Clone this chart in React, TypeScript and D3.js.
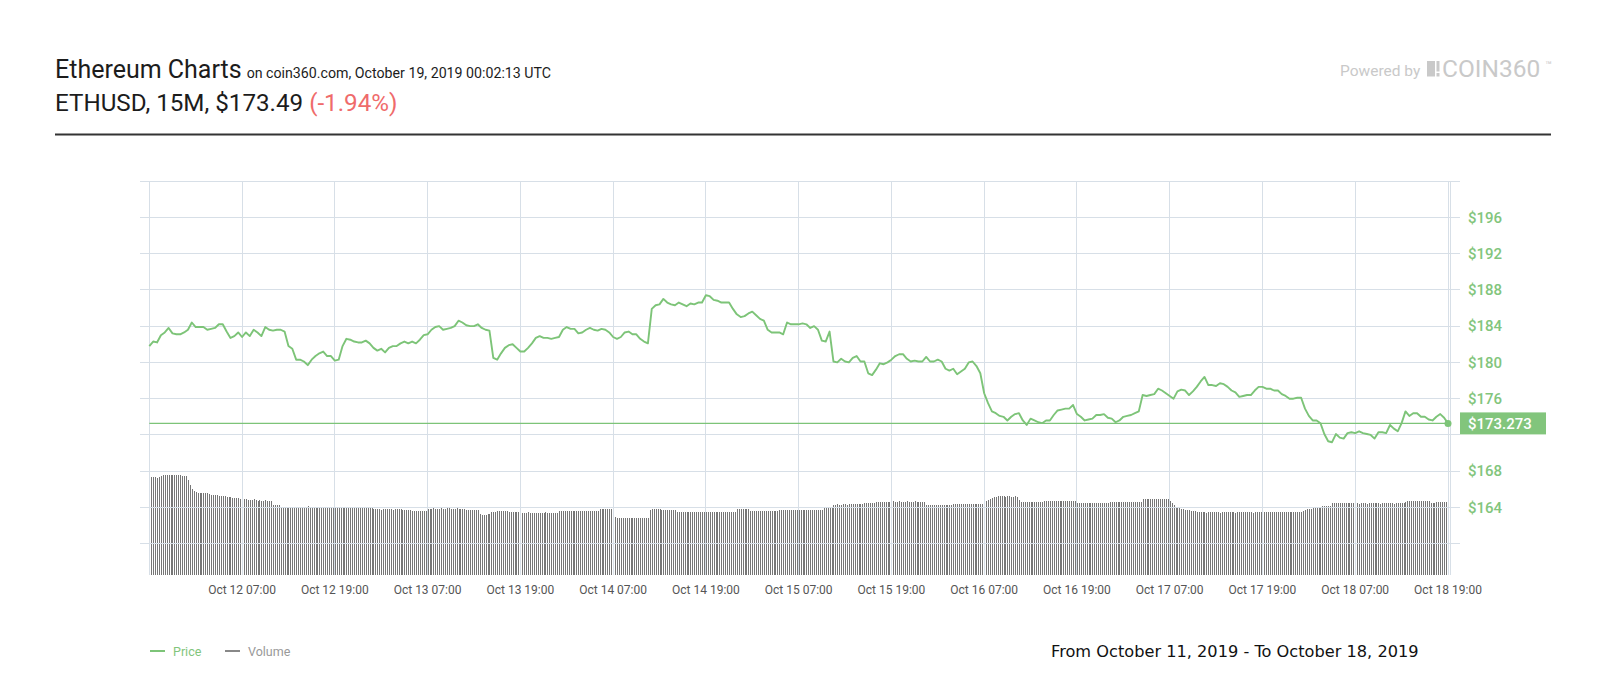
import React from 'react';
import * as d3 from 'd3';

// ---- data ----
const startTime = Date.UTC(2019, 9, 11, 19, 0);
const endTime = Date.UTC(2019, 9, 18, 19, 0);
const HOUR = 3600000;
const HALF_HOUR = 1800000;
const QUARTER = 900000;

// ETHUSD price every 30 minutes, Oct 11 19:00 -> Oct 18 19:00 (one row = 6 hours)
const price30m = [
  181.8, 182.3, 182.2, 183.0, 183.3, 183.8, 183.2, 183.1, 183.1, 183.3, 183.6, 184.4,
  183.9, 183.9, 183.9, 183.6, 183.7, 183.8, 184.2, 184.2, 183.4, 182.7, 182.9, 183.3,
  182.8, 183.3, 182.9, 183.6, 183.3, 182.9, 183.9, 183.6, 183.5, 183.6, 183.6, 183.4,
  181.8, 181.5, 180.3, 180.3, 180.1, 179.7, 180.3, 180.7, 181.0, 181.2, 180.7, 180.7,
  180.2, 180.3, 181.8, 182.6, 182.5, 182.3, 182.2, 182.2, 182.4, 182.1, 181.6, 181.3,
  181.5, 181.1, 181.6, 181.8, 181.8, 182.1, 182.3, 182.1, 182.3, 182.1, 182.5, 183.0,
  183.1, 183.6, 183.9, 184.0, 183.6, 183.7, 183.8, 184.0, 184.6, 184.4, 184.1, 184.0,
  184.0, 184.2, 183.8, 183.6, 183.5, 180.5, 180.3, 181.0, 181.6, 181.9, 182.0, 181.6,
  181.2, 181.2, 181.6, 182.1, 182.7, 182.9, 182.7, 182.7, 182.6, 182.7, 182.8, 183.6,
  183.9, 183.7, 183.7, 183.2, 183.3, 183.6, 183.8, 183.6, 183.5, 183.7, 183.6, 183.3,
  182.8, 182.6, 182.8, 183.3, 183.4, 183.1, 183.1, 182.6, 182.3, 182.1, 185.9, 186.3,
  186.4, 187.0, 186.6, 186.4, 186.3, 186.6, 186.4, 186.2, 186.5, 186.4, 186.6, 186.6,
  187.4, 187.3, 186.9, 186.8, 186.6, 186.6, 186.6, 185.9, 185.3, 185.0, 185.1, 185.4,
  185.6, 185.2, 184.8, 184.6, 183.6, 183.3, 183.3, 183.3, 183.1, 184.4, 184.2, 184.2,
  184.2, 184.3, 184.2, 183.8, 184.0, 183.6, 182.4, 182.3, 183.4, 180.1, 180.0, 180.4,
  180.1, 180.0, 180.5, 180.7, 180.1, 180.1, 178.8, 178.6, 179.2, 179.9, 179.8, 180.0,
  180.3, 180.7, 180.9, 180.9, 180.4, 180.1, 180.2, 180.1, 180.1, 180.6, 180.1, 180.1,
  180.3, 180.1, 179.3, 179.1, 179.3, 178.7, 179.0, 179.3, 180.0, 180.1, 179.6, 178.8,
  176.6, 175.5, 174.6, 174.4, 174.1, 174.0, 173.6, 174.0, 174.3, 174.4, 173.6, 173.1,
  173.8, 173.6, 173.4, 173.3, 173.6, 173.6, 174.2, 174.7, 174.8, 174.9, 174.9, 175.3,
  174.3, 174.0, 173.6, 173.7, 173.8, 174.2, 174.2, 174.3, 173.9, 173.8, 173.4, 173.6,
  174.0, 174.1, 174.2, 174.4, 174.6, 176.4, 176.3, 176.4, 176.5, 177.1, 176.9, 176.6,
  176.3, 176.0, 176.8, 177.0, 176.9, 176.4, 176.8, 177.3, 177.9, 178.4, 177.5, 177.5,
  177.4, 177.7, 177.6, 177.3, 176.9, 176.7, 176.2, 176.3, 176.4, 176.4, 176.9, 177.3,
  177.3, 177.1, 177.1, 176.9, 176.9, 176.5, 176.3, 176.0, 176.0, 176.1, 176.1, 174.9,
  174.1, 173.6, 173.6, 173.3, 172.1, 171.3, 171.2, 172.1, 171.7, 171.6, 172.2, 172.3,
  172.2, 172.4, 172.2, 172.1, 172.0, 171.6, 172.3, 172.3, 172.2, 173.1, 172.7, 172.4,
  173.3, 174.6, 174.1, 174.4, 174.4, 174.0, 174.0, 173.7, 173.6, 174.0, 174.3, 173.9,
  173.273,
];

// 15-minute volume (relative units), two rows per 12 hours
const volume15m = [
  97, 98, 98, 98, 97, 98, 99, 100, 100, 100, 100, 100, 100, 100, 100, 100, 100, 99, 99, 99, 95, 90, 86, 84,
  83, 82, 82, 82, 82, 82, 82, 81, 80, 80, 80, 80, 79, 79, 79, 79, 78, 78, 78, 77, 77, 77, 77, 76,
  77, 76, 76, 75, 75, 75, 76, 75, 74, 75, 74, 74, 75, 74, 74, 74, 70, 70, 70, 70, 67, 67, 67, 67,
  67, 67, 67, 67, 67, 67, 68, 68, 68, 68, 69, 68, 68, 68, 68, 67, 67, 68, 67, 67, 67, 67, 67, 68,
  67, 67, 67, 67, 67, 67, 68, 68, 67, 67, 67, 67, 67, 67, 67, 67, 67, 67, 67, 67, 66, 66, 66, 66,
  65, 66, 66, 66, 66, 66, 65, 66, 66, 66, 66, 65, 65, 65, 65, 65, 64, 64, 64, 64, 64, 64, 64, 64,
  66, 66, 66, 67, 66, 66, 66, 67, 66, 66, 67, 67, 66, 66, 66, 67, 66, 66, 66, 66, 65, 65, 65, 65,
  65, 65, 65, 61, 60, 60, 60, 61, 61, 63, 63, 63, 64, 64, 64, 64, 64, 64, 63, 63, 63, 63, 63, 63,
  62, 62, 62, 62, 63, 62, 62, 62, 62, 62, 62, 62, 62, 63, 62, 62, 62, 62, 62, 62, 64, 64, 64, 64,
  64, 64, 64, 64, 64, 64, 64, 64, 64, 64, 64, 64, 64, 64, 64, 64, 64, 66, 66, 66, 66, 66, 66, 66,
  58, 58, 57, 57, 57, 57, 57, 57, 57, 57, 57, 57, 57, 57, 57, 57, 57, 57, 57, 65, 66, 66, 66, 66,
  66, 65, 65, 65, 65, 65, 65, 65, 65, 63, 63, 63, 63, 63, 63, 63, 63, 63, 63, 63, 63, 63, 63, 63,
  63, 63, 63, 63, 63, 63, 63, 63, 63, 63, 63, 63, 63, 63, 63, 63, 66, 66, 66, 66, 66, 66, 66, 64,
  64, 64, 64, 64, 64, 64, 64, 64, 64, 64, 64, 64, 64, 64, 65, 65, 65, 65, 65, 65, 65, 65, 65, 65,
  65, 65, 65, 65, 65, 65, 65, 65, 65, 65, 65, 65, 65, 67, 67, 67, 67, 67, 70, 70, 71, 70, 70, 71,
  71, 70, 71, 71, 71, 71, 71, 71, 71, 71, 72, 72, 72, 72, 72, 72, 73, 73, 73, 73, 73, 73, 73, 73,
  73, 74, 73, 73, 74, 73, 73, 73, 74, 73, 73, 73, 74, 73, 73, 73, 73, 73, 70, 70, 70, 70, 70, 70,
  70, 70, 70, 70, 70, 70, 70, 70, 71, 71, 71, 71, 71, 71, 71, 71, 71, 71, 71, 71, 71, 71, 71, 71,
  73, 74, 75, 76, 77, 78, 78, 79, 79, 79, 79, 78, 79, 79, 78, 78, 79, 78, 75, 73, 73, 73, 73, 73,
  73, 73, 73, 73, 73, 73, 73, 74, 74, 74, 74, 74, 74, 74, 74, 74, 74, 74, 74, 74, 74, 74, 74, 74,
  72, 72, 72, 72, 72, 72, 72, 72, 72, 72, 72, 72, 72, 72, 72, 72, 72, 73, 73, 73, 73, 73, 73, 73,
  73, 73, 73, 73, 73, 73, 73, 73, 73, 73, 76, 76, 76, 76, 76, 76, 76, 76, 76, 76, 76, 76, 76, 76,
  74, 72, 70, 68, 67, 67, 66, 66, 65, 65, 65, 64, 64, 64, 63, 63, 63, 63, 63, 62, 63, 63, 63, 63,
  63, 63, 62, 63, 63, 63, 63, 63, 63, 63, 62, 63, 63, 63, 63, 63, 63, 63, 63, 62, 63, 63, 63, 63,
  63, 63, 63, 63, 63, 63, 63, 63, 63, 63, 63, 63, 63, 63, 63, 63, 63, 63, 63, 63, 63, 64, 65, 66,
  66, 66, 67, 67, 67, 67, 67, 69, 69, 69, 69, 69, 72, 72, 72, 72, 72, 72, 72, 72, 72, 72, 72, 72,
  72, 72, 71, 72, 72, 72, 71, 72, 72, 72, 72, 72, 72, 71, 72, 72, 72, 72, 72, 72, 71, 72, 72, 72,
  72, 72, 73, 74, 74, 74, 74, 74, 74, 74, 74, 74, 74, 74, 74, 72, 72, 72, 73, 73, 73, 73, 73, 73,
];

const priceTicks = [160, 164, 168, 172, 176, 180, 184, 188, 192, 196, 200];
const labelTicks = [164, 168, 172, 176, 180, 184, 188, 192, 196];
const currentPrice = 173.273;
const tickCount = 15; // 12-hour grid lines from start to end

const GREEN = '#7dc478';
const GREEN_LABEL = '#82c57c';
const GRID = '#d7dfe7';

export default function App() {
  const x = d3
    .scaleTime()
    .domain([new Date(startTime), new Date(endTime)])
    .range([149.3, 1448]);
  const y = d3.scaleLinear().domain([164, 196]).range([507.5, 217.3]);
  const yVol = d3.scaleLinear().domain([0, 100]).range([575, 475]);

  const gridTimes = d3.range(tickCount).map((i) => new Date(startTime + i * 12 * HOUR));
  const fmt = d3.utcFormat('%b %d %H:%M');

  const pricePts: [number, number][] = price30m.map((p, i) => [
    x(new Date(startTime + i * HALF_HOUR)),
    y(p),
  ]);
  const line = d3.line<[number, number]>().x((d) => d[0]).y((d) => d[1]);

  const yCur = y(currentPrice);
  const xEnd = x(new Date(endTime));
  const font = 'Roboto, "Noto Sans", sans-serif';

  return (
    <svg
      width={1600}
      height={700}
      style={{ position: 'absolute', left: 0, top: 0, background: '#fff' }}
      fontFamily={font}
    >
      {/* header */}
      <text x={55} y={78} fontSize={25} fill="#1c1c1c">
        Ethereum Charts
        <tspan fontSize={14.2} dx={5}>on coin360.com, October 19, 2019 00:02:13 UTC</tspan>
      </text>
      <text x={55} y={111} fontSize={24.2} fill="#1c1c1c">
        ETHUSD, 15M, $173.49
        <tspan fill="#ef6b6b" dx={6}>(-1.94%)</tspan>
      </text>
      <line x1={55} x2={1551} y1={134.5} y2={134.5} stroke="#333" strokeWidth={2} />
      <text x={1340} y={76} fontSize={15.5} fill="#c9c9c9">
        Powered by
      </text>
      <rect x={1427} y={61} width={8} height={15.5} fill="#c9c9c9" />
      <rect x={1436.5} y={61} width={3} height={10.5} fill="#c9c9c9" />
      <rect x={1436.5} y={73} width={3} height={3.5} fill="#c9c9c9" />
      <text x={1442} y={77} fontSize={24.5} fill="#c9c9c9">
        COIN360
      </text>
      <text x={1545} y={69} fontSize={11} fill="#c9c9c9">
        ™
      </text>

      {/* volume bars */}
      <g fill="#767676" shapeRendering="crispEdges">
        {volume15m.map((v, i) => {
          const xv = x(new Date(startTime + i * QUARTER));
          return (
            <rect key={i} x={xv} y={yVol(v)} width={1} height={yVol(0) - yVol(v)} />
          );
        })}
      </g>

      {/* grid */}
      <g stroke={GRID} strokeWidth={1} shapeRendering="crispEdges">
        {priceTicks.map((p) => (
          <line key={p} x1={140} x2={1460} y1={y(p)} y2={y(p)} />
        ))}
        {gridTimes.map((t, i) => (
          <line key={i} x1={x(t)} x2={x(t)} y1={y(200)} y2={575} />
        ))}
        <line x1={xEnd + 2.5} x2={xEnd + 2.5} y1={y(200)} y2={575} />
      </g>

      {/* x-axis labels */}
      <g fontSize={12} fill="#555" textAnchor="middle">
        {gridTimes.slice(1).map((t, i) => (
          <text key={i} x={x(t)} y={594}>
            {fmt(t)}
          </text>
        ))}
      </g>

      {/* y-axis labels */}
      <g fontSize={15} fontWeight={500} fill={GREEN_LABEL}>
        {labelTicks
          .filter((p) => Math.abs(y(p) - yCur) > 14)
          .map((p) => (
            <text key={p} x={1468} y={y(p)} dy="0.35em">
              ${p}
            </text>
          ))}
      </g>

      {/* current price line */}
      <line x1={149.3} x2={xEnd} y1={yCur} y2={yCur} stroke={GREEN} strokeWidth={1.2} />

      {/* price line */}
      <path d={line(pricePts) || ''} fill="none" stroke={GREEN} strokeWidth={1.9} strokeLinejoin="round" />
      <circle cx={xEnd} cy={yCur} r={3.5} fill={GREEN} />

      {/* current price label */}
      <rect x={1460} y={yCur - 11} width={86} height={22} fill={GREEN_LABEL} />
      <text x={1468} y={yCur} dy="0.36em" fontSize={15} fontWeight={500} fill="#fff">
        ${currentPrice}
      </text>

      {/* legend */}
      <line x1={150} x2={165} y1={651} y2={651} stroke={GREEN} strokeWidth={2} />
      <text x={173} y={655.5} fontSize={12.5} fill={GREEN_LABEL}>
        Price
      </text>
      <line x1={225} x2={240} y1={651} y2={651} stroke="#888" strokeWidth={2} />
      <text x={248} y={655.5} fontSize={12.5} fill="#999">
        Volume
      </text>

      <text x={1051} y={657} fontSize={16.2} fill="#111" fontFamily='"DejaVu Sans", sans-serif'>
        From October 11, 2019 - To October 18, 2019
      </text>
    </svg>
  );
}
